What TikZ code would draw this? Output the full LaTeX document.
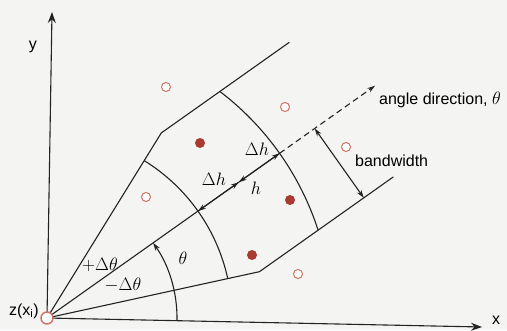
\documentclass[tikz,border=0pt]{standalone}
\usepackage{fix-cm}
\usepackage{fontspec}
\setmainfont{Liberation Sans}
\usetikzlibrary{arrows.meta,calc}
\definecolor{bg}{RGB}{244,244,242}
\definecolor{dotfill}{RGB}{168,58,48}
\definecolor{dotring}{RGB}{205,115,100}
\definecolor{ln}{RGB}{35,35,35}
\begin{document}
\begin{tikzpicture}[x=1pt,y=1pt,
  font=\fontsize{16}{18}\selectfont,
  line/.style={ln, line width=1.1pt},
  axisarr/.style={-{Stealth[length=11pt,width=8pt]}},
  tip/.style={{Stealth[length=8pt,width=5pt]}-{Stealth[length=8pt,width=5pt]}},
  onetip/.style={-{Stealth[length=8pt,width=5pt]}},
  opendot/.style={circle, draw=dotring, fill=white, line width=1pt, minimum size=9pt, inner sep=0pt},
  fulldot/.style={circle, fill=dotfill, minimum size=10pt, inner sep=0pt},
  lbl/.style={inner sep=0pt},
  mlbl/.style={inner sep=0pt, font=\fontsize{18}{20}\selectfont}]
\fill[bg] (-47,-12) rectangle (460,318);
\useasboundingbox (-47,-12) rectangle (460,318);

% axes
\coordinate (O) at (0,0);
\coordinate (xend) at (435,-9);
\coordinate (yend) at (5,306);
\draw[line, axisarr] (O) -- (xend);
\draw[line, axisarr] (O) -- (yend);

\begin{scope}[rotate=-1]
  \def\dir{36.3}
  \coordinate (K1) at (\dir+23:217.5);
  \coordinate (K2) at (\dir-23:217.5);
  \coordinate (U2) at ($(K1)+(\dir:157)$);
  \coordinate (L2) at ($(K2)+(\dir:164)$);
  \draw[line, line join=round] (U2) -- (K1) -- (O) -- (K2) -- (L2);
  % arcs
  \coordinate (I1) at (\dir-23:185);
  \draw[line] (I1) arc[start angle=\dir-23, end angle=\dir+23, radius=185];
  \coordinate (A1) at (\dir-17.35:285);
  \draw[line] (A1) arc[start angle=\dir-17.35, end angle=\dir+17.35, radius=285];
  % direction
  \coordinate (Din) at (\dir:185);
  \coordinate (H) at (\dir:235);
  \coordinate (Dout) at (\dir:285);
  \coordinate (Dtip) at (\dir:402);
  \draw[line] (O) -- (Dout);
  \draw[line, dashed, dash pattern=on 6pt off 4pt, onetip] (Dout) -- (Dtip);
  \draw[line, tip] (Din) -- (H);
  \draw[line, tip] (H) -- (Dout);
  % theta arc
  \coordinate (T0) at (0:130);
  \draw[line, onetip] (T0) arc[start angle=0, end angle=\dir, radius=130];
  % bandwidth
  \coordinate (B1) at (\dir:328);
  \coordinate (B2) at ($(B1)+(\dir-90:85)$);
  \draw[line, tip] (B1) -- (B2);
\end{scope}

% origin
\node[opendot, minimum size=12pt, line width=1.4pt] (orig) at (O) {};

% data points
\node[opendot] (p1) at (119,231) {};
\node[fulldot] (p2) at (153,175) {};
\node[opendot] (p3) at (238,211) {};
\node[opendot] (p4) at (299,171) {};
\node[opendot] (p5) at (99,121) {};
\node[fulldot] (p6) at (243,118) {};
\node[fulldot] (p7) at (205,63) {};
\node[opendot] (p8) at (251,44) {};

% labels
\node[lbl] (ylab) at (-14,271) {y};
\node[lbl] (xlab) at (449,-2) {x};
\node[lbl, anchor=east] (zlab) at (-8,7) {z(x\textsubscript{i})};
\node[lbl, anchor=west] (adir) at (332,218) {angle direction, {\fontsize{18}{20}\selectfont$\theta$}};
\node[lbl, anchor=west] (bw) at (308,157) {bandwidth};
\node[mlbl] (hlab) at (209,130) {$h$};
\node[mlbl] (dh1) at (210,169) {$\Delta h$};
\node[mlbl] (dh2) at (167,139) {$\Delta h$};
\node[mlbl] (pdt) at (53,53) {$+\Delta\theta$};
\node[mlbl] (mdt) at (76,33) {$-\Delta\theta$};
\node[mlbl] (th) at (136,60) {$\theta$};
\end{tikzpicture}
\end{document}
